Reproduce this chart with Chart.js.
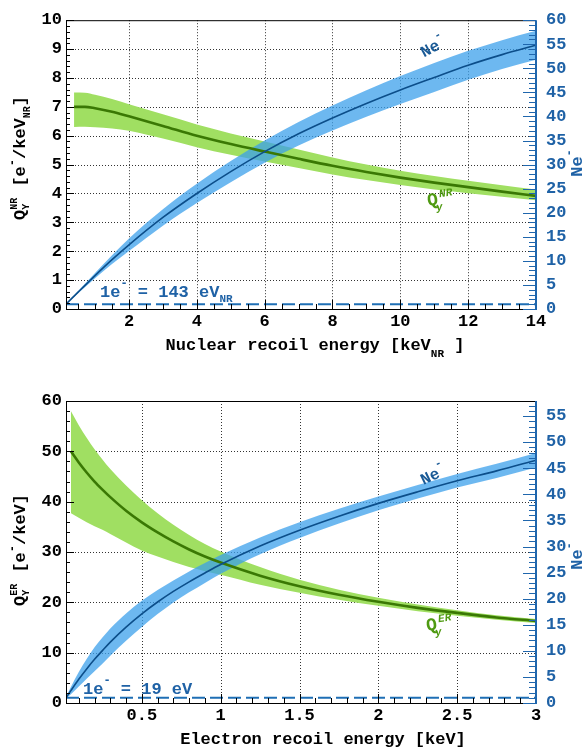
<!DOCTYPE html>
<html>
<head>
<meta charset="utf-8">
<script src="https://cdn.jsdelivr.net/npm/chart.js@4.4.1/dist/chart.umd.min.js"></script>
<style>
  body { margin: 0; background: #fff; }
  canvas { display: block; }
</style>
</head>
<body>
<canvas id="nrChart" width="583" height="370"></canvas>
<canvas id="erChart" width="583" height="382"></canvas>
<script>
// ---------- nuclear recoil (top panel) ----------
const nrQyEnergy = [0.38, 0.7, 1, 1.5, 2, 3, 4, 5, 6, 7, 8, 9, 10, 11, 12, 13, 14];
const nrQy       = [7.0, 7.0, 6.95, 6.83, 6.67, 6.34, 6.0, 5.71, 5.45, 5.2, 4.96, 4.745, 4.55, 4.375, 4.22, 4.065, 3.915];
const nrQyHigh   = [7.5, 7.49, 7.42, 7.27, 7.09, 6.74, 6.39, 6.08, 5.8, 5.52, 5.25, 5.005, 4.79, 4.605, 4.44, 4.285, 4.135];
const nrQyLow    = [6.3, 6.31, 6.29, 6.25, 6.17, 5.9, 5.6, 5.34, 5.11, 4.88, 4.66, 4.465, 4.29, 4.135, 4.01, 3.885, 3.765];

const nrNeEnergy = [0.143, 0.5, 1, 1.5, 2, 3, 4, 5, 6, 7, 8, 9, 10, 11, 12, 13, 14];
const nrNe       = [1.0, 3.5, 6.95, 10.25, 13.34, 19.02, 24.0, 28.55, 32.7, 36.4, 39.68, 42.7, 45.5, 48.1, 50.64, 52.85, 54.8];
const nrNeHigh   = [1.1, 3.75, 7.5, 11.15, 14.64, 20.72, 26.0, 30.75, 35.0, 38.85, 42.28, 45.45, 48.4, 51.1, 53.64, 55.85, 57.8];
const nrNeLow    = [0.9, 3.25, 6.4, 9.35, 12.04, 17.32, 22.0, 26.35, 30.4, 33.95, 37.08, 39.95, 42.6, 45.1, 47.64, 49.85, 51.8];

const nrThreshEnergy = [0.143, 14];
const nrThreshNe     = [1, 1];

const nrXTicks  = [2, 4, 6, 8, 10, 12, 14];
const nrQyTicks = [0, 1, 2, 3, 4, 5, 6, 7, 8, 9, 10];
const nrNeTicks = [0, 5, 10, 15, 20, 25, 30, 35, 40, 45, 50, 55, 60];

// ---------- electron recoil (bottom panel) ----------
const erQyEnergy = [0.05, 0.1, 0.15, 0.2, 0.25, 0.3, 0.4, 0.5, 0.6, 0.7, 0.8, 0.9, 1, 1.25, 1.5, 1.75, 2, 2.25, 2.5, 2.75, 3];
const erQy       = [50.0, 47.8, 45.8, 44.0, 42.4, 40.9, 38.2, 35.9, 33.9, 32.1, 30.5, 29.1, 27.9, 25.3, 23.2, 21.5, 20.1, 18.9, 17.9, 17.0, 16.3];
const erQyHigh   = [58.0, 55.2, 52.7, 50.4, 48.4, 46.5, 43.2, 40.3, 37.7, 35.4, 33.4, 31.6, 30.1, 27.0, 24.5, 22.5, 20.9, 19.55, 18.45, 17.45, 16.7];
const erQyLow    = [37.7, 36.8, 35.9, 35.1, 34.4, 33.6, 31.9, 30.3, 29.1, 28.0, 27.0, 26.2, 25.5, 23.5, 21.9, 20.5, 19.3, 18.25, 17.35, 16.55, 15.9];

const erNeEnergy = [0.019, 0.05, 0.1, 0.15, 0.2, 0.25, 0.3, 0.4, 0.5, 0.6, 0.7, 0.8, 0.9, 1, 1.25, 1.5, 1.75, 2, 2.25, 2.5, 2.75, 3];
const erNe       = [1.0, 2.38, 4.55, 6.54, 8.38, 10.04, 11.68, 14.55, 17.09, 19.36, 21.39, 23.23, 24.93, 26.56, 30.11, 33.13, 35.82, 38.27, 40.49, 42.6, 44.5, 46.55];
const erNeHigh   = [1.15, 3.08, 5.95, 8.44, 10.68, 12.54, 14.28, 17.15, 19.59, 21.66, 23.49, 25.23, 26.83, 28.36, 31.71, 34.63, 37.22, 39.57, 41.79, 43.9, 45.85, 47.95];
const erNeLow    = [0.85, 1.68, 3.15, 4.64, 6.08, 7.54, 9.08, 11.95, 14.59, 17.06, 19.29, 21.23, 23.03, 24.76, 28.51, 31.63, 34.42, 36.97, 39.19, 41.3, 43.15, 45.15];

const erThreshEnergy = [0.019, 3];
const erThreshNe     = [1, 1];

const erXTicks  = [0.5, 1, 1.5, 2, 2.5, 3];
const erQyTicks = [0, 10, 20, 30, 40, 50, 60];
const erNeTicks = [0, 5, 10, 15, 20, 25, 30, 35, 40, 45, 50, 55];

// ---------- styles ----------
const MONO = '"Liberation Mono","DejaVu Sans Mono",monospace';
const BLUE_TXT = '#1f62a6';
const GREEN_TXT = '#4f9a12';

function pts(xs, ys) {
  return xs.map((x, i) => ({ x: x, y: ys[i] }));
}

function P(t, size, color, dy, adv, style, dx) {
  return { t: t, font: (style || 'bold') + ' ' + size + 'px ' + MONO, color: color, dy: dy || 0, adv: adv, dx: dx || 0 };
}

function richText(ctx, parts, x, y, angle, align) {
  ctx.save();
  ctx.translate(x, y);
  ctx.rotate(angle);
  ctx.textBaseline = 'alphabetic';
  ctx.textAlign = 'left';
  const w = parts.map(p => { ctx.font = p.font; return p.adv !== undefined ? p.adv : ctx.measureText(p.t).width; });
  const total = w.reduce((a, b) => a + b, 0);
  let cx = align === 'center' ? -total / 2 : 0;
  parts.forEach((p, i) => {
    ctx.font = p.font;
    ctx.fillStyle = p.color;
    ctx.fillText(p.t, cx + p.dx, p.dy);
    cx += w[i];
  });
  ctx.restore();
}

function stepValues(min, max, step) {
  const out = [];
  const a = Math.ceil(min / step - 1e-9), b = Math.floor(max / step + 1e-9);
  for (let i = a; i <= b; i++) out.push(+(i * step).toFixed(6));
  return out;
}

// grid, frame and inward ROOT-style tick marks
const framePlugin = {
  id: 'frame',
  beforeDatasetsDraw(chart, args, opts) {
    const ctx = chart.ctx, a = chart.chartArea;
    const x = chart.scales.x, y = chart.scales.y;
    ctx.save();
    ctx.strokeStyle = '#333';
    ctx.lineWidth = 1;
    ctx.setLineDash([1, 2]);
    opts.xMajor.forEach(v => {
      const px = Math.round(x.getPixelForValue(v)) + 0.5;
      if (px < a.left + 2 || px > a.right - 2) return;
      ctx.beginPath(); ctx.moveTo(px, a.top); ctx.lineTo(px, a.bottom); ctx.stroke();
    });
    opts.yMajor.forEach(v => {
      const py = Math.round(y.getPixelForValue(v)) + 0.5;
      if (py < a.top + 2 || py > a.bottom - 2) return;
      ctx.beginPath(); ctx.moveTo(a.left, py); ctx.lineTo(a.right, py); ctx.stroke();
    });
    ctx.restore();
  },
  afterDraw(chart, args, opts) {
    const ctx = chart.ctx, a = chart.chartArea;
    const x = chart.scales.x, y = chart.scales.y, y2 = chart.scales.y2;
    ctx.save();
    ctx.lineWidth = 1;
    ctx.strokeStyle = '#000';
    // left-axis ticks
    stepValues(y.min, y.max, opts.yMinor).forEach(v => {
      const py = Math.round(y.getPixelForValue(v)) + 0.5;
      const len = opts.yMajor.indexOf(v) >= 0 ? 8 : 4;
      ctx.beginPath(); ctx.moveTo(a.left, py); ctx.lineTo(a.left + len, py); ctx.stroke();
    });
    // bottom-axis ticks
    stepValues(x.min, x.max, opts.xMinor).forEach(v => {
      const px = Math.round(x.getPixelForValue(v)) + 0.5;
      const len = opts.xMajor.indexOf(v) >= 0 ? 9 : 5;
      ctx.beginPath(); ctx.moveTo(px, a.bottom); ctx.lineTo(px, a.bottom - len); ctx.stroke();
    });
    // frame: top, left, bottom
    ctx.beginPath();
    ctx.moveTo(a.right, a.top + 0.5); ctx.lineTo(a.left + 0.5, a.top + 0.5);
    ctx.lineTo(a.left + 0.5, a.bottom + 0.5); ctx.lineTo(a.right, a.bottom + 0.5);
    ctx.stroke();
    // right axis (blue)
    ctx.strokeStyle = '#1f66ad';
    stepValues(y2.min, y2.max, opts.y2Minor).forEach(v => {
      const py = Math.round(y2.getPixelForValue(v)) + 0.5;
      const len = opts.y2Major.indexOf(v) >= 0 ? 13 : 7;
      ctx.beginPath(); ctx.moveTo(a.right, py); ctx.lineTo(a.right - len, py); ctx.stroke();
    });
    ctx.lineWidth = 2;
    ctx.beginPath(); ctx.moveTo(a.right, a.top); ctx.lineTo(a.right, a.bottom + 1); ctx.stroke();
    ctx.restore();
    opts.text(ctx);
  }
};

function makeChart(id, d) {
  const tickFont = { family: MONO, size: 17, weight: 'bold' };
  return new Chart(document.getElementById(id), {
    type: 'line',
    data: {
      datasets: [
        { data: pts(d.neX, d.ne), yAxisID: 'y2', borderColor: '#0c4e8a', borderWidth: 1.6, order: 1 },
        { data: pts(d.qyX, d.qy), yAxisID: 'y', borderColor: '#3a7804', borderWidth: 2.6, order: 2 },
        { data: pts(d.thX, d.thY), yAxisID: 'y2', borderColor: '#1f6fb5', borderWidth: 2,
          borderDash: [13, 5], order: 3 },
        { data: pts(d.neX, d.neHi), yAxisID: 'y2', borderWidth: 0, fill: '+1',
          backgroundColor: 'rgba(60,160,235,0.75)', order: 4 },
        { data: pts(d.neX, d.neLo), yAxisID: 'y2', borderWidth: 0, order: 5 },
        { data: pts(d.qyX, d.qyHi), yAxisID: 'y', borderWidth: 0, fill: '+1',
          backgroundColor: '#a0df62', order: 6 },
        { data: pts(d.qyX, d.qyLo), yAxisID: 'y', borderWidth: 0, order: 7 }
      ]
    },
    options: {
      responsive: false,
      animation: false,
      devicePixelRatio: 1,
      layout: { padding: { top: d.top, left: 0, right: 0, bottom: 0 }, autoPadding: false },
      elements: {
        point: { radius: 0 },
        line: { cubicInterpolationMode: 'monotone', fill: false }
      },
      plugins: {
        legend: { display: false },
        tooltip: { enabled: false },
        frame: d.frame
      },
      scales: {
        x: {
          type: 'linear', min: d.xMin, max: d.xMax,
          grid: { display: false, drawTicks: false },
          border: { display: false },
          afterBuildTicks: s => { s.ticks = d.xTicks.map(v => ({ value: v })); },
          afterFit: s => { s.height = d.xHeight; },
          ticks: { font: tickFont, color: '#000', padding: 3, maxRotation: 0, autoSkip: false,
                   callback: v => String(v) }
        },
        y: {
          position: 'left', min: 0, max: d.yMax,
          grid: { display: false, drawTicks: false },
          border: { display: false },
          afterBuildTicks: s => { s.ticks = d.yTicks.map(v => ({ value: v })); },
          afterFit: s => { s.width = 66; },
          ticks: { font: tickFont, color: '#000', padding: 4, callback: v => String(v) }
        },
        y2: {
          position: 'right', min: 0, max: d.y2Max,
          grid: { display: false, drawTicks: false },
          border: { display: false },
          afterBuildTicks: s => { s.ticks = d.y2Ticks.map(v => ({ value: v })); },
          afterFit: s => { s.width = 47; },
          ticks: { font: tickFont, color: BLUE_TXT, padding: 10, callback: v => String(v) }
        }
      }
    },
    plugins: [framePlugin]
  });
}

makeChart('nrChart', {
  qyX: nrQyEnergy, qy: nrQy, qyHi: nrQyHigh, qyLo: nrQyLow,
  neX: nrNeEnergy, ne: nrNe, neHi: nrNeHigh, neLo: nrNeLow,
  thX: nrThreshEnergy, thY: nrThreshNe,
  xMin: 0.143, xMax: 14, yMax: 10, y2Max: 60,
  xTicks: nrXTicks, yTicks: nrQyTicks, y2Ticks: nrNeTicks,
  top: 7, xHeight: 61,
  frame: {
    xMajor: nrXTicks, yMajor: nrQyTicks, y2Major: nrNeTicks,
    xMinor: 0.5, yMinor: 0.2, y2Minor: 1,
    text: ctx => {
      const k = '#000';
      richText(ctx, [P('Q', 17, k), P('NR', 10, k, -8, 0), P('Y', 10, k, 4, 13), P(' [e', 17, k),
        P('-', 12, k, -9), P('/keV', 17, k), P('NR', 10, k, 5), P(']', 17, k)], 25, 158, -Math.PI / 2, 'center');
      richText(ctx, [P('Ne', 17, BLUE_TXT), P('-', 12, BLUE_TXT, -9)], 582, 163, -Math.PI / 2, 'center');
      richText(ctx, [P('Nuclear recoil energy [keV', 17, k), P('NR', 11, k, 7), P(' ]', 17, k)], 315, 350, 0, 'center');
      richText(ctx, [P('1e', 17, BLUE_TXT), P('-', 12, BLUE_TXT, -10), P(' = 143 eV', 17, BLUE_TXT), P('NR', 11, BLUE_TXT, 5)], 100, 297, 0, 'left');
      richText(ctx, [P('Ne', 16, '#1a5a96', 5), P('-', 11, '#1a5a96', -5)], 433, 47, -0.5, 'center');
      richText(ctx, [P('Q', 18, GREEN_TXT), P('NR', 11, GREEN_TXT, -7, 0, 'italic bold', 2), P('y', 11, GREEN_TXT, 6, undefined, 'italic bold', -3)], 428, 206, -0.15, 'left');
    }
  }
});

makeChart('erChart', {
  qyX: erQyEnergy, qy: erQy, qyHi: erQyHigh, qyLo: erQyLow,
  neX: erNeEnergy, ne: erNe, neHi: erNeHigh, neLo: erNeLow,
  thX: erThreshEnergy, thY: erThreshNe,
  xMin: 0.019, xMax: 3, yMax: 60, y2Max: 57.9,
  xTicks: erXTicks, yTicks: erQyTicks, y2Ticks: erNeTicks,
  top: 31, xHeight: 49,
  frame: {
    xMajor: erXTicks, yMajor: erQyTicks, y2Major: erNeTicks,
    xMinor: 0.1, yMinor: 2, y2Minor: 1,
    text: ctx => {
      const k = '#000';
      richText(ctx, [P('Q', 17, k), P('ER', 10, k, -8, 0), P('Y', 10, k, 4, 13), P(' [e', 17, k),
        P('-', 12, k, -9), P('/keV]', 17, k)], 25, 180, -Math.PI / 2, 'center');
      richText(ctx, [P('Ne', 17, BLUE_TXT), P('-', 12, BLUE_TXT, -9)], 582, 186, -Math.PI / 2, 'center');
      richText(ctx, [P('Electron recoil energy [keV]', 17, k)], 323, 374, 0, 'center');
      richText(ctx, [P('1e', 17, BLUE_TXT), P('-', 12, BLUE_TXT, -10), P(' = 19 eV', 17, BLUE_TXT)], 83, 324, 0, 'left');
      richText(ctx, [P('Ne', 16, '#1a5a96', 5), P('-', 11, '#1a5a96', -5)], 433, 105, -0.45, 'center');
      richText(ctx, [P('Q', 18, GREEN_TXT), P('ER', 11, GREEN_TXT, -7, 0, 'italic bold', 2), P('y', 11, GREEN_TXT, 6, undefined, 'italic bold', -3)], 427, 261, -0.15, 'left');
    }
  }
});
</script>
</body>
</html>
